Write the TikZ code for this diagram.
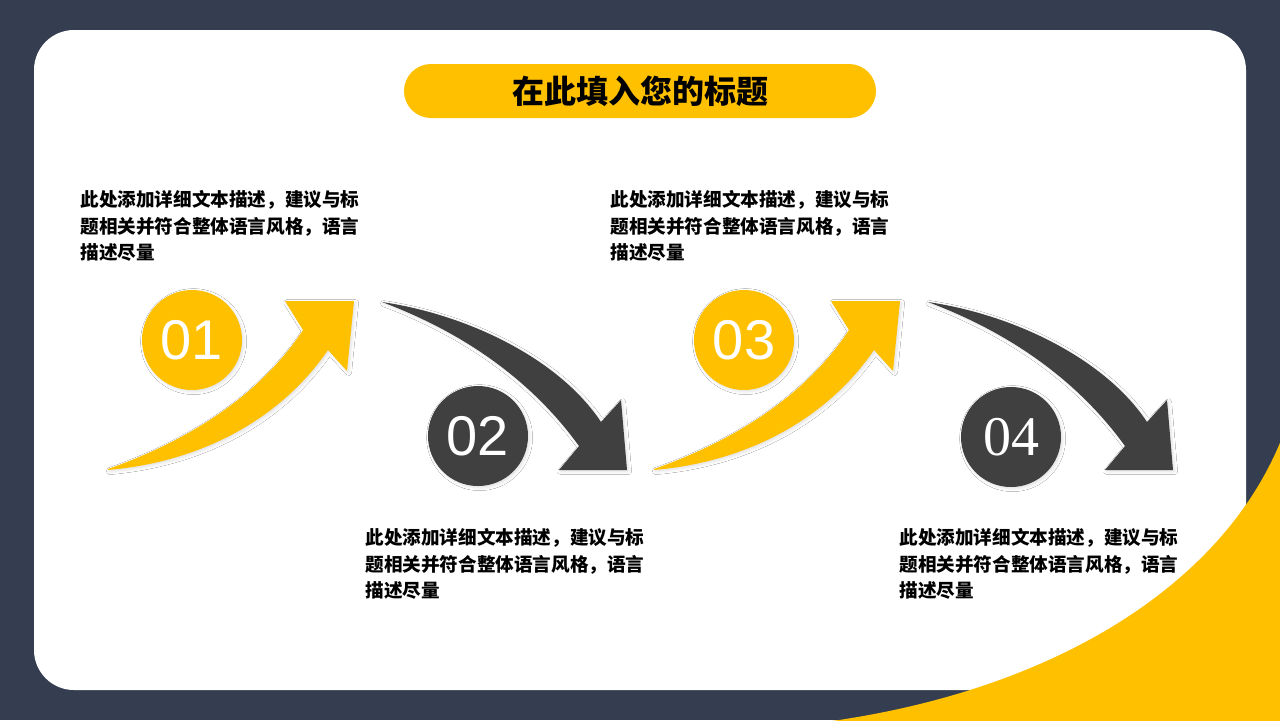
\documentclass[tikz,border=0pt]{standalone}
\usepackage{fontspec}
\setmainfont{Liberation Sans}
\newfontfamily\cjk{Noto Sans CJK SC}
\newfontfamily\numserif{Liberation Serif}
\usetikzlibrary{shadows,shadows.blur}

\definecolor{navy}{HTML}{343E50}
\definecolor{gold}{HTML}{FFC000}
\definecolor{charcoal}{HTML}{404040}

\begin{document}
\begin{tikzpicture}[x=0.5pt,y=-0.5pt]

\tikzset{
    soft/.style={blur shadow={shadow xshift=0.8pt,shadow yshift=-0.8pt,shadow blur radius=1.5pt,shadow opacity=12}},
    disc/.style={circle,minimum size=50pt,inner sep=0pt,fill=#1,text=white,soft,
        font=\fontsize{28}{28}\selectfont},
    desc/.style={anchor=north west,inner sep=0pt,align=left,
        font=\cjk\bfseries\fontsize{9.3}{13.25}\selectfont},
    upswoop/.style={fill=gold,soft},
    downswoop/.style={fill=charcoal,soft}}

\useasboundingbox (0,0) rectangle (1280,720);
\fill[navy] (0,0) rectangle (1280,720);
\fill[white,rounded corners=20pt] (34,30) rectangle (1246,690);
\fill[gold] (825,722) .. controls (1060,690) and (1230,580) .. (1285,430) -- (1285,722) -- cycle;

\node[fill=gold,rounded corners=13.5pt,minimum width=236pt,minimum height=27pt,
    font=\cjk\bfseries\fontsize{16}{16}\selectfont] (title) at (640,91) {在此填入您的标题};

% arrows
\foreach \dx in {0,546} {
\begin{scope}[shift={(\dx,0)}]
\path[upswoop] (108,469) .. controls (190,440) and (260,395) .. (303,330) -- (285,301)
    -- (354,301) -- (347,371) -- (328,350) .. controls (280,420) and (200,462) .. (108,470) -- cycle;
\path[downswoop] (382,302) .. controls (470,315) and (560,360) .. (601,422) -- (621,400)
    -- (627,470) -- (559,470) -- (579,446) .. controls (535,385) and (470,335) .. (382,302) -- cycle;
\end{scope}
}

\node[disc=gold] (n1) at (192,340) {\raisebox{-1pt}{01}};
\node[disc=charcoal] (n2) at (478,436) {\raisebox{-1pt}{02}};
\node[disc=gold] (n3) at (744,340) {\raisebox{-1pt}{03}};
\node[disc=charcoal,font=\numserif\fontsize{28}{28}\selectfont] (n4) at (1011,437) {04};

\node[desc] (t1) at (80,190) {此处添加详细文本描述，建议与标\\题相关并符合整体语言风格，语言\\描述尽量};
\node[desc] (t2) at (365,528) {此处添加详细文本描述，建议与标\\题相关并符合整体语言风格，语言\\描述尽量};
\node[desc] (t3) at (610,190) {此处添加详细文本描述，建议与标\\题相关并符合整体语言风格，语言\\描述尽量};
\node[desc] (t4) at (899,528) {此处添加详细文本描述，建议与标\\题相关并符合整体语言风格，语言\\描述尽量};

\end{tikzpicture}
\end{document}
